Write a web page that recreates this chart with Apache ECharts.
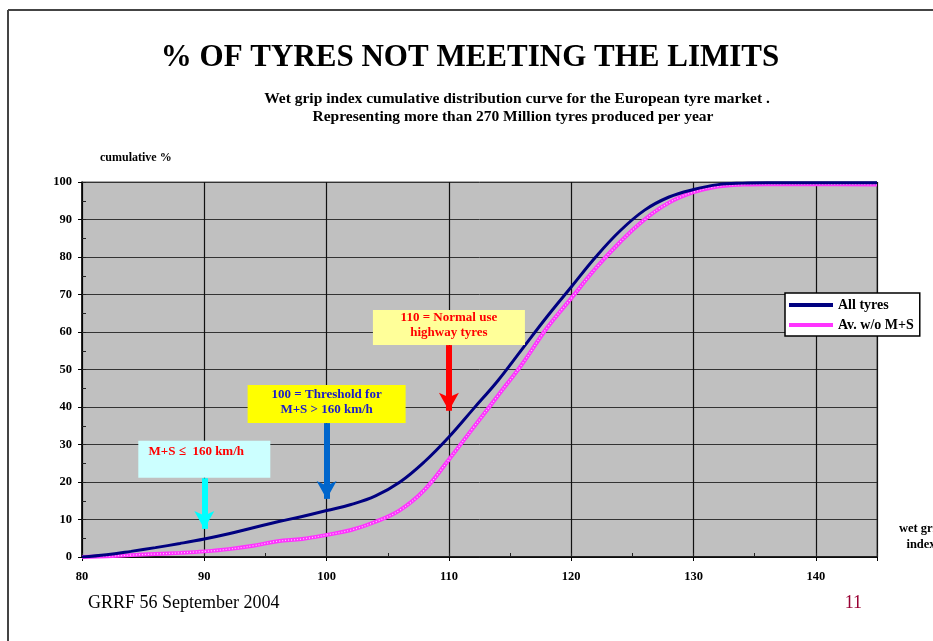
<!DOCTYPE html>
<html>
<head>
<meta charset="utf-8">
<script src="https://cdn.jsdelivr.net/npm/echarts@6/dist/echarts.min.js"></script>
<style>
  html, body { margin: 0; padding: 0; background: #fff; }
  #chart { width: 933px; height: 641px; }
</style>
</head>
<body>
<div id="chart"></div>
<script>
// wet grip index (x) and cumulative %
const wgi = [80, 82, 84, 86, 88, 90, 92, 94, 96, 98, 100, 102, 104, 106, 108, 110,
  112, 114, 116, 118, 120, 122, 124, 126, 128, 130, 132, 134, 136, 140, 145]
const allTyres = [0, 0.6, 1.5, 2.5, 3.6, 4.8, 6.2, 7.8, 9.4, 10.8, 12.4, 14, 16.3, 20, 25.4, 32,
  39.5, 47, 55.5, 64, 72, 80, 87, 92.5, 96, 98, 99.3, 99.7, 99.8, 99.8, 99.8]
const avNoMS = [0, 0.2, 0.5, 0.8, 1.1, 1.5, 2.1, 3, 4.2, 4.8, 5.9, 7.2, 9.4, 12.5, 17.9, 26,
  34.5, 43, 51.5, 61, 69, 77, 84, 90, 94.5, 97.3, 98.8, 99.3, 99.4, 99.4, 99.3]

const xTicks = [80, 90, 100, 110, 120, 130, 140]

// annotations: x position, box text, arrow start/end (%), box centre (%)
const notes = [
  { x: 90, text: 'M+S \u2264  160 km/h', boxY: 26.1, from: 21, to: 7.5, size: [132, 37], bg: '#ccffff', color: '#ff0000', arrow: '#00ffff' },
  { x: 100, text: '100 = Threshold for\nM+S > 160 km/h', boxY: 40.8, from: 35.7, to: 15.5, size: [158, 38], bg: '#ffff00', color: '#1a1acc', arrow: '#0066cc' },
  { x: 110, text: '110 = Normal use\nhighway tyres', boxY: 61.2, from: 56.5, to: 39, size: [152, 35], bg: '#ffff99', color: '#ff0000', arrow: '#ff0000' },
]

const serif = '"Liberation Serif", "DejaVu Serif", serif'
const chart = echarts.init(document.getElementById('chart'))

const pairs = (ys) => wgi.map((x, i) => [x, ys[i]])

const option = {
  animation: false,
  grid: {
    left: 82, top: 182, right: 56, bottom: 84,
    show: true, backgroundColor: '#c0c0c0', borderColor: '#555', borderWidth: 1,
  },
  legend: {
    orient: 'vertical',
    left: 785, top: 293,
    data: [
      { name: 'All tyres', icon: 'rect' },
      { name: 'Av. w/o M+S', icon: 'rect' },
    ],
    backgroundColor: '#fff',
    borderColor: '#000', borderWidth: 1.5, borderRadius: 0,
    padding: [5, 6, 4, 4],
    itemWidth: 44, itemHeight: 4, itemGap: 6,
    textStyle: { fontFamily: serif, fontWeight: 'bold', fontSize: 14, color: '#000' },
  },
  xAxis: [
    {
      type: 'value', min: 80, max: 145, interval: 10,
      axisLine: { lineStyle: { color: '#000', width: 1.5 } },
      axisTick: { show: true, length: 4, lineStyle: { color: '#000' } },
      axisLabel: {
        margin: 13, color: '#000', fontFamily: serif, fontWeight: 'bold', fontSize: 12.5,
        formatter: (v) => (xTicks.includes(v) ? String(v) : ''),
      },
      splitLine: { show: true, lineStyle: { color: '#111', width: 1.2 } },
    },
    {
      type: 'value', min: 80, max: 145, interval: 5, position: 'bottom',
      axisLine: { show: false },
      axisTick: { show: true, inside: true, length: 4, lineStyle: { color: '#222' } },
      axisLabel: { show: false },
      splitLine: { show: false },
    },
  ],
  yAxis: [
    {
      type: 'value', min: 0, max: 100, interval: 10,
      axisLine: { show: true, lineStyle: { color: '#000', width: 1.5 } },
      axisTick: { show: true, length: 4, lineStyle: { color: '#000' } },
      axisLabel: { margin: 10, color: '#000', fontFamily: serif, fontWeight: 'bold', fontSize: 12.5 },
      splitLine: { show: true, lineStyle: { color: '#333', width: 1 } },
    },
    {
      type: 'value', min: 0, max: 100, interval: 5, position: 'left',
      axisLine: { show: false },
      axisTick: { show: true, inside: true, length: 4, lineStyle: { color: '#222' } },
      axisLabel: { show: false },
      splitLine: { show: false },
    },
  ],
  series: [
    {
      name: 'Av. w/o M+S',
      type: 'line', smooth: 0.4, symbol: 'none',
      data: pairs(avNoMS),
      itemStyle: { color: '#ff33ff' },
      lineStyle: { color: '#ff33ff', width: 4 },
      z: 3,
    },
    {
      // white dotted core of the pink line
      name: 'pinkcore',
      type: 'line', smooth: 0.4, symbol: 'none',
      data: pairs(avNoMS),
      lineStyle: { color: 'rgba(255,255,255,0.75)', width: 1.2, type: [1, 2] },
      silent: true, z: 4,
    },
    {
      name: 'All tyres',
      type: 'line', smooth: 0.4, symbol: 'none',
      data: pairs(allTyres),
      itemStyle: { color: '#000080' },
      lineStyle: { color: '#000080', width: 3 },
      z: 5,
      markLine: {
        silent: true,
        symbol: ['none', 'arrow'],
        symbolSize: [15, 18],
        label: { show: false },
        data: notes.map((n) => [
          { coord: [n.x, n.from], lineStyle: { color: n.arrow, width: 6, type: 'solid' }, itemStyle: { color: n.arrow } },
          { coord: [n.x, n.to] },
        ]),
        z: 6,
      },
      markPoint: {
        silent: true,
        data: notes.map((n) => ({
          coord: [n.x, n.boxY],
          symbol: 'rect',
          symbolSize: n.size,
          itemStyle: { color: n.bg },
          label: {
            show: true, position: 'inside',
            formatter: n.text,
            offset: n.x === 90 ? [-8, -7] : [0, -2],
            color: n.color, fontFamily: serif, fontWeight: 'bold', fontSize: 13, lineHeight: 15,
          },
        })),
        z: 7,
      },
    },
  ],
  graphic: [
    { type: 'line', shape: { x1: 8, y1: 10, x2: 933, y2: 10 }, style: { stroke: '#444', lineWidth: 2 } },
    { type: 'line', shape: { x1: 8, y1: 10, x2: 8, y2: 641 }, style: { stroke: '#444', lineWidth: 2 } },
    {
      type: 'text', x: 470, y: 58,
      style: { text: '% OF TYRES NOT MEETING THE LIMITS', font: 'bold 31px ' + serif, fill: '#000', align: 'center', verticalAlign: 'middle' },
    },
    {
      type: 'text', x: 517, y: 99,
      style: { text: 'Wet grip index cumulative distribution curve for the European tyre market .', font: 'bold 15.5px ' + serif, fill: '#000', align: 'center', verticalAlign: 'middle' },
    },
    {
      type: 'text', x: 513, y: 117,
      style: { text: 'Representing more than 270 Million tyres produced per year', font: 'bold 15.5px ' + serif, fill: '#000', align: 'center', verticalAlign: 'middle' },
    },
    {
      type: 'text', x: 100, y: 158,
      style: { text: 'cumulative %', font: 'bold 12px ' + serif, fill: '#000', align: 'left', verticalAlign: 'middle' },
    },
    {
      type: 'text', x: 921, y: 537,
      style: { text: 'wet grip\nindex', font: 'bold 12.5px ' + serif, lineHeight: 16, fill: '#000', align: 'center', verticalAlign: 'middle' },
    },
    {
      type: 'text', x: 88, y: 603,
      style: { text: 'GRRF 56 September 2004', font: '18px ' + serif, fill: '#000', align: 'left', verticalAlign: 'middle' },
    },
    {
      type: 'text', x: 862, y: 603,
      style: { text: '11', font: '18px ' + serif, fill: '#990033', align: 'right', verticalAlign: 'middle' },
    },
  ],
}

chart.setOption(option)
</script>
</body>
</html>
